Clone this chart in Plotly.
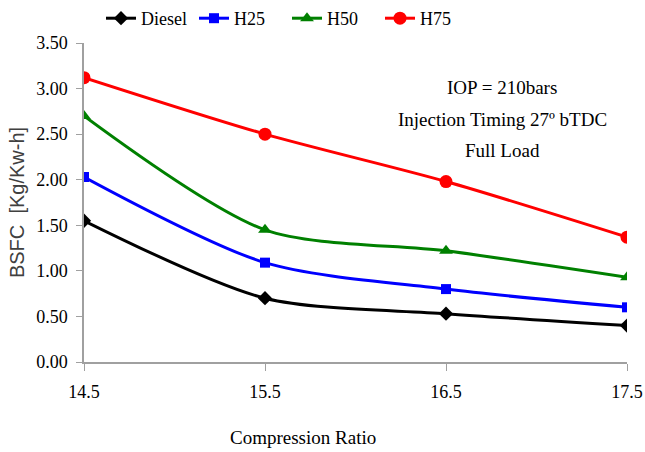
import plotly.graph_objects as go

compression_ratio = [14.5, 15.5, 16.5, 17.5]
diesel = [1.55, 0.70, 0.53, 0.40]
h25 = [2.03, 1.09, 0.80, 0.60]
h50 = [2.70, 1.45, 1.22, 0.93]
h75 = [3.12, 2.50, 1.98, 1.37]
x_ticks = [14.5, 15.5, 16.5, 17.5]
y_ticks = [0, 0.5, 1.0, 1.5, 2.0, 2.5, 3.0, 3.5]
note_lines = ["IOP = 210bars", "Injection Timing 27º bTDC", "Full Load"]

series = [
    ("Diesel", diesel, "#000000", "diamond", 11),
    ("H25", h25, "#0000FF", "square", 10),
    ("H50", h50, "#008000", "triangle-up", 12),
    ("H75", h75, "#FF0000", "circle", 13),
]

serif = "Liberation Serif, Times New Roman, serif"
sans = "Liberation Sans, Arial, sans-serif"

fig = go.Figure()
for name, vals, color, sym, size in series:
    fig.add_trace(go.Scatter(
        x=compression_ratio, y=vals, name=name, mode="lines+markers",
        line=dict(color=color, width=3, shape="spline", smoothing=0.8),
        marker=dict(symbol=sym, size=size, color=color),
    ))

L, R, T, B = 84, 18, 43, 90
W, H = 645, 452
pw, ph = W - L - R, H - T - B

def px(xp):
    return (xp - L) / pw

def py(yp):
    return (H - B - yp) / ph

annotations = []
for i, line in enumerate(note_lines):
    annotations.append(dict(
        text=line, x=px(502), y=py(88 + 31 * i), xref="paper", yref="paper",
        showarrow=False, xanchor="center", yanchor="middle",
        font=dict(family=serif, size=19, color="#000000")))
annotations.append(dict(
    text="Compression Ratio", x=px(303), y=py(437), xref="paper", yref="paper",
    showarrow=False, xanchor="center", yanchor="middle",
    font=dict(family=serif, size=19, color="#000000")))

fig.update_layout(
    width=W, height=H,
    paper_bgcolor="white", plot_bgcolor="white",
    margin=dict(l=L, r=R, t=T, b=B, autoexpand=False),
    font=dict(family=serif, size=17, color="#000000"),
    showlegend=True,
    legend=dict(orientation="h", x=px(101), xanchor="left",
                y=py(0), yanchor="top",
                font=dict(family=serif, size=18, color="#000000"),
                itemwidth=30, entrywidth=48, entrywidthmode="pixels",
                bgcolor="rgba(0,0,0,0)"),
    xaxis=dict(range=[14.5, 17.5], tickvals=x_ticks, ticktext=[str(v) for v in x_ticks],
               showgrid=False, zeroline=False, showline=True, linecolor="#A0A0A0", linewidth=1.5,
               ticks="outside", ticklen=7, tickcolor="#A0A0A0",
               tickfont=dict(family=serif, size=18, color="#000000"),
               ticklabelstandoff=6),
    yaxis=dict(range=[0, 3.5], tickvals=y_ticks, tickformat=".2f",
               showgrid=False, zeroline=False, showline=True, linecolor="#A0A0A0", linewidth=1.5,
               ticks="outside", ticklen=6, tickcolor="#A0A0A0",
               tickfont=dict(family=serif, size=18, color="#000000"),
               ticklabelstandoff=5,
               title=dict(text="BSFC  [Kg/Kw-h]",
                          font=dict(family=sans, size=20, color="#404040"),
                          standoff=6)),
    annotations=annotations,
)

fig.write_html("out.html")
